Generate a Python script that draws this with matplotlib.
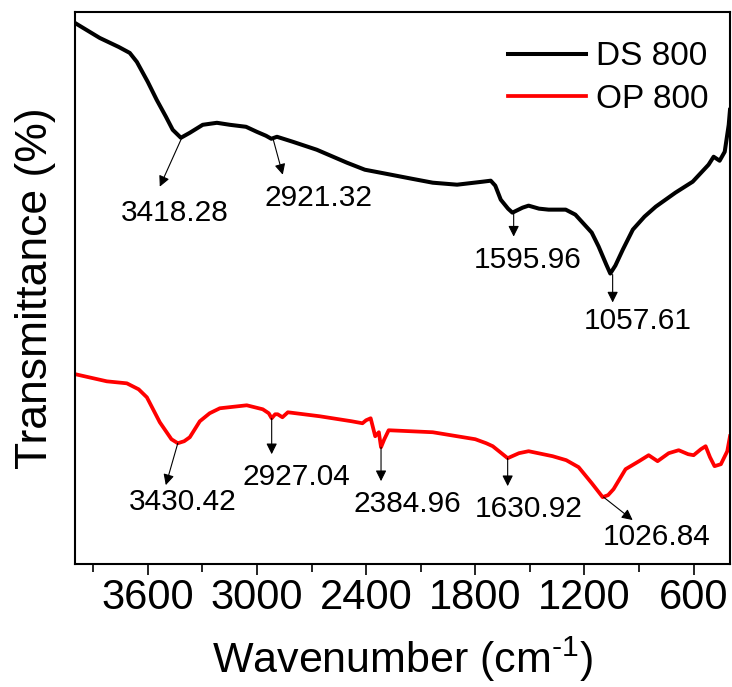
import matplotlib
matplotlib.use('Agg')
from matplotlib import pyplot as plt
from matplotlib.ticker import MultipleLocator

plt.rcParams['font.family'] = ['Liberation Sans', 'DejaVu Sans']
plt.rcParams['mathtext.fontset'] = 'custom'
plt.rcParams['mathtext.rm'] = 'Liberation Sans'
plt.rcParams['mathtext.it'] = 'Liberation Sans:italic'

'''data read off the spectra (arbitrary transmittance units)'''
ds_wn = [4000, 3864, 3760, 3699, 3660, 3600, 3551, 3500, 3463, 3418, 3369, 3298,
         3220, 3149, 3060, 3001, 2950, 2921, 2890, 2803, 2671, 2505, 2407, 2292,
         2150, 2034, 1900, 1759, 1715, 1690, 1660, 1620, 1596, 1540, 1507, 1450,
         1397, 1303, 1250, 1210, 1160, 1122, 1080, 1058, 1030, 989, 934, 870, 808,
         700, 605, 518, 490, 457, 429, 407, 400]
ds_t = [54.2, 52.7, 51.8, 51.2, 50.3, 48.3, 46.5, 44.8, 43.5, 42.7, 43.2, 44.0,
        44.2, 44.0, 43.8, 43.3, 42.9, 42.6, 42.8, 42.3, 41.5, 40.2, 39.5, 39.1,
        38.6, 38.2, 38.0, 38.3, 38.4, 37.9, 36.5, 35.6, 35.2, 35.7, 35.9, 35.6,
        35.5, 35.5, 35.0, 34.2, 33.2, 31.8, 30.0, 29.1, 29.9, 31.5, 33.5, 34.8,
        35.8, 37.2, 38.3, 40.0, 40.8, 40.4, 41.3, 44.0, 45.5]

op_wn = [3995, 3825, 3715, 3650, 3605, 3534, 3470, 3435, 3400, 3369, 3314, 3260,
         3204, 3056, 2968, 2935, 2919, 2900, 2886, 2860, 2830, 2655, 2480, 2420,
         2400, 2375, 2350, 2330, 2318, 2300, 2276, 2034, 1800, 1740, 1704, 1622,
         1560, 1507, 1375, 1300, 1232, 1160, 1100, 1070, 1040, 974, 900, 847, 798,
         737, 682, 630, 600, 560, 534, 510, 485, 450, 415, 400]
op_t = [19.0, 18.3, 18.1, 17.5, 16.7, 14.2, 12.5, 12.1, 12.3, 12.7, 14.3, 15.1,
        15.6, 15.9, 15.5, 15.1, 14.6, 15.0, 15.0, 14.7, 15.2, 14.8, 14.3, 14.1,
        14.4, 14.6, 12.8, 13.2, 11.7, 12.5, 13.4, 13.2, 12.5, 12.1, 11.8, 10.6,
        11.1, 11.3, 10.8, 10.4, 9.7, 8.1, 6.7, 6.9, 7.5, 9.5, 10.3, 10.9, 10.3,
        11.1, 11.4, 11.0, 10.9, 11.5, 11.8, 10.7, 9.8, 10.0, 11.3, 12.8]

# peak labels: text, arrow start (wn, t), arrow end (wn, t), text centre (wn, t)
ds_peaks = ['3418.28', '2921.32', '1595.96', '1057.61']
ds_start = [(3413, 42.7), (2913, 42.7), (1589, 35.2), (1045, 29.0)]
ds_end = [(3534, 37.8), (2858, 39.0), (1589, 32.8), (1045, 26.2)]
ds_txt = [(3452, 35.2), (2660, 36.7), (1512, 30.5), (908, 24.3)]

op_peaks = ['3430.42', '2927.04', '2384.96', '1630.92', '1026.84']
op_start = [(3435, 12.1), (2919, 14.6), (2318, 11.7), (1622, 10.6), (1095, 6.7)]
op_end = [(3501, 7.9), (2919, 11.0), (2318, 8.3), (1622, 7.8), (935, 4.4)]
op_txt = [(3408, 6.2), (2781, 8.7), (2171, 6.0), (1507, 5.5), (802, 2.7)]

'''plot'''
fig = plt.figure(figsize=(7.32, 6.87), dpi=100)
ax = fig.add_axes([75/732, 1-564/687, 655/732, 552/687])

ax.plot(ds_wn, ds_t, c='black', lw=2.9, solid_joinstyle='round', label='DS 800')
ax.plot(op_wn, op_t, c='red', lw=2.7, solid_joinstyle='round', label='OP 800')

for lab, s, e, t in zip(ds_peaks + op_peaks, ds_start + op_start,
                        ds_end + op_end, ds_txt + op_txt):
    ax.annotate('', xy=e, xytext=s,
                arrowprops=dict(arrowstyle='-|>', color='black', lw=0.8,
                                mutation_scale=16, shrinkA=0, shrinkB=0))
    ax.text(t[0], t[1], lab, fontsize=21.5, ha='center', va='center')

ax.set_xlim(4000, 400)
ax.set_ylim(0, 55.3)
ax.xaxis.set_minor_locator(MultipleLocator(300))
ax.set_xticks([3600, 3000, 2400, 1800, 1200, 600])
ax.set_yticks([])
ax.tick_params(axis='x', which='major', length=8, width=1.2, labelsize=30, pad=2)
ax.tick_params(axis='x', which='minor', length=5.5, width=1.2)
for sp in ax.spines.values():
    sp.set_linewidth(1.5)

ax.set_xlabel('Wavenumber (cm$^{\\text{-1}}$)', fontsize=31, labelpad=12)
ax.set_ylabel('Transmittance (%)', fontsize=32, labelpad=14)

ax.legend(loc='upper left', bbox_to_anchor=(0.661, 0.947), frameon=False,
          fontsize=24, handlelength=2.33, handletextpad=0.3, labelspacing=0.34,
          borderpad=0, borderaxespad=0)

fig.savefig('out.png', dpi=100)
